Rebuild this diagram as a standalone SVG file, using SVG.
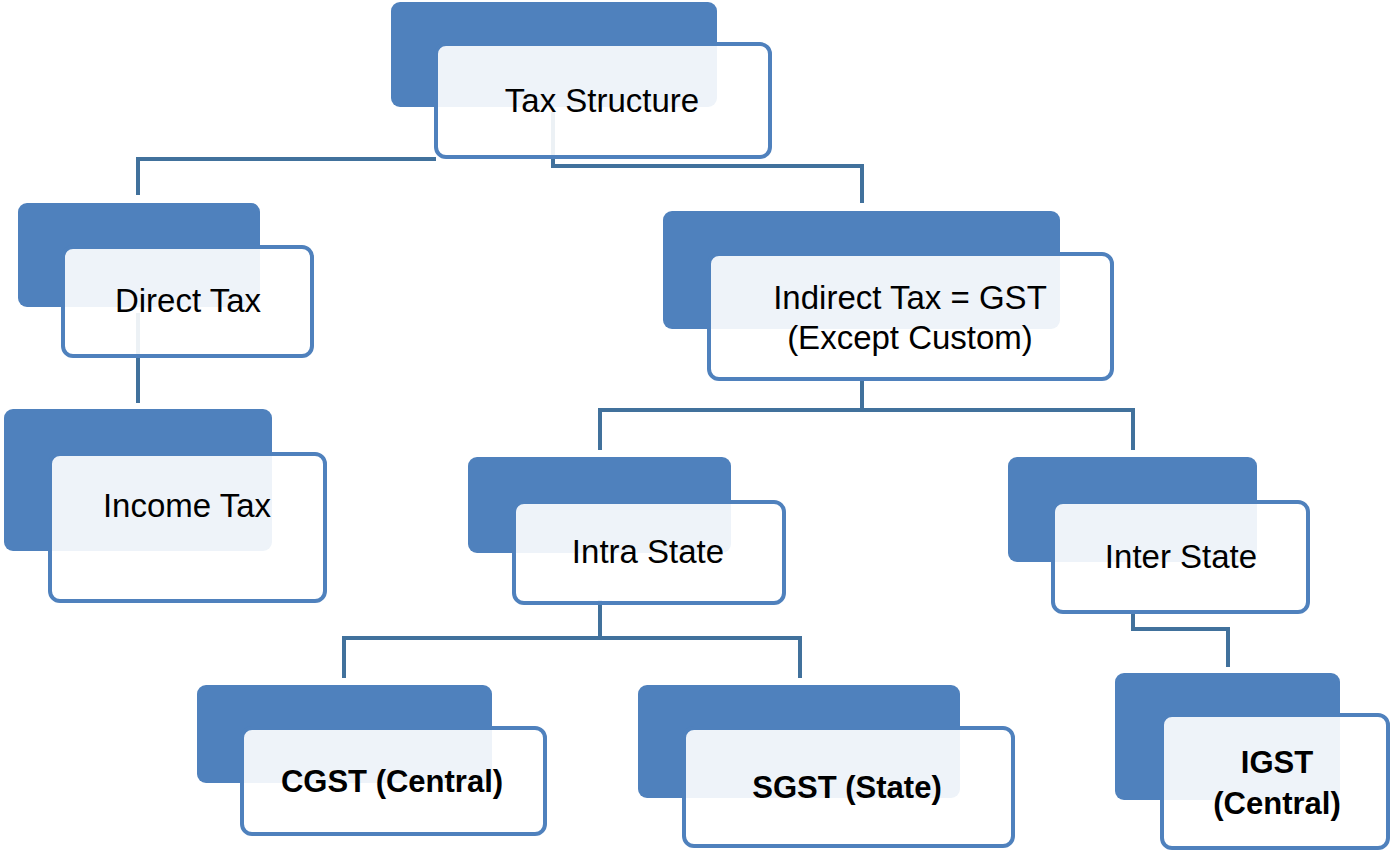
<svg xmlns="http://www.w3.org/2000/svg" width="1392" height="851" viewBox="0 0 1392 851">
<style>
.back{fill:#4F81BD}
.front{fill:#FFFFFF;fill-opacity:0.9;stroke:#4F81BD;stroke-width:4}
.conn{fill:none;stroke:#41719C;stroke-width:4}
.t{font-family:"Liberation Sans",Arial,sans-serif;font-size:33px;fill:#000;text-anchor:middle}
.b{font-weight:bold;font-size:31px}
</style>
<rect width="1392" height="851" fill="#FFFFFF"/>
<g id="connectors">
<path class="conn" d="M553,112 V166 H862 V203"/>
<path class="conn" d="M138,195 V159 H436"/>
<path class="conn" d="M138,313 V403"/>
<path class="conn" d="M862,379 V410 M600,450 V410 H1133 V450"/>
<path class="conn" d="M600,600 V638 M344,678 V638 H800 V678"/>
<path class="conn" d="M1133,610 V629 H1228 V667"/>
</g>
<g id="tax-structure">
<rect class="back" x="391" y="2" width="326" height="105" rx="9"/>
<rect class="front" x="436" y="44" width="334" height="113" rx="10"/>
<text class="t" x="602" y="112">Tax Structure</text>
</g>
<g id="direct-tax">
<rect class="back" x="18" y="203" width="242" height="104" rx="9"/>
<rect class="front" x="63" y="247" width="249" height="109" rx="10"/>
<text class="t" x="188" y="312">Direct Tax</text>
</g>
<g id="income-tax">
<rect class="back" x="4" y="409" width="268" height="142" rx="9"/>
<rect class="front" x="50" y="454" width="275" height="147" rx="10"/>
<text class="t" x="187" y="517">Income Tax</text>
</g>
<g id="indirect-tax">
<rect class="back" x="663" y="211" width="397" height="118" rx="9"/>
<rect class="front" x="709" y="254" width="403" height="125" rx="10"/>
<text class="t" x="910" y="309">Indirect Tax = GST</text>
<text class="t" x="910" y="349">(Except Custom)</text>
</g>
<g id="intra-state">
<rect class="back" x="468" y="457" width="263" height="96" rx="9"/>
<rect class="front" x="514" y="502" width="270" height="101" rx="10"/>
<text class="t" x="648" y="563">Intra State</text>
</g>
<g id="inter-state">
<rect class="back" x="1008" y="457" width="249" height="105" rx="9"/>
<rect class="front" x="1053" y="502" width="255" height="110" rx="10"/>
<text class="t" x="1181" y="568">Inter State</text>
</g>
<g id="cgst">
<rect class="back" x="197" y="685" width="295" height="98" rx="9"/>
<rect class="front" x="242" y="728" width="303" height="106" rx="10"/>
<text class="t b" x="392" y="792">CGST (Central)</text>
</g>
<g id="sgst">
<rect class="back" x="638" y="685" width="322" height="113" rx="9"/>
<rect class="front" x="684" y="728" width="329" height="118" rx="10"/>
<text class="t b" x="847" y="798">SGST (State)</text>
</g>
<g id="igst">
<rect class="back" x="1115" y="673" width="225" height="127" rx="9"/>
<rect class="front" x="1162" y="715" width="226" height="133" rx="10"/>
<text class="t b" x="1277" y="773">IGST</text>
<text class="t b" x="1277" y="814">(Central)</text>
</g>
</svg>
